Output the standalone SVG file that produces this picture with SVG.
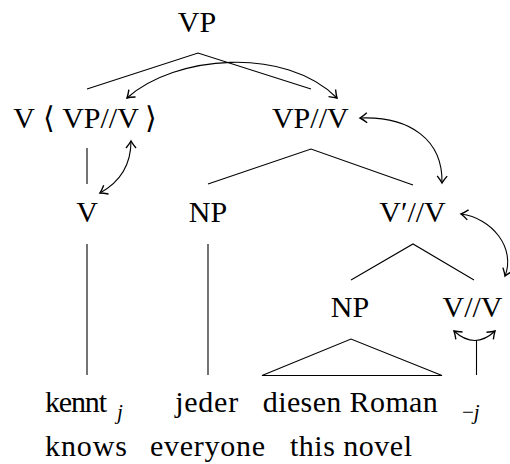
<svg xmlns="http://www.w3.org/2000/svg" width="510" height="464" viewBox="0 0 510 464" font-family="Liberation Serif, Times New Roman, serif">
<defs>
<marker id="ah" markerUnits="userSpaceOnUse" markerWidth="14" markerHeight="14" refX="0" refY="0" viewBox="-8 -7 10 14" orient="auto-start-reverse">
<path d="M-7,-5 Q-2.5,-1.3 0,0 Q-2.5,1.3 -7,5" fill="none" stroke="#000" stroke-width="1.4"/>
</marker>
</defs>
<g id="connectors" stroke="#000" stroke-width="1.1" fill="none">
<path d="M87,89 L198,53 L311,89"/>
<path d="M87,148 V184"/>
<path d="M208,184 L311,149 L413,185"/>
<path d="M87,244 V375"/>
<path d="M208,244 V375"/>
<path d="M351,280 L413,244 L474,280"/>
<path d="M262,375.5 L351,339 L442,375.5 Z"/>
<path d="M476.5,340 V375"/>
<g marker-start="url(#ah)" marker-end="url(#ah)">
<path d="M127,98 C175,55 285,46 337,98"/>
<path d="M360,118 C410,116 443,140 442,183"/>
<path d="M461,214 C492,218 516,248 505,276"/>
<path d="M131,141 C131,165 120,182 100,193"/>
<path d="M454,331 Q475,350 495,331"/>
</g>
</g>
<g id="n-vp"><text x="197" y="32" text-anchor="middle" font-family="Times New Roman, Liberation Serif, serif" font-size="30">VP</text></g>
<g id="n-v-slash"><text x="24" y="128" text-anchor="middle" font-family="Times New Roman, Liberation Serif, serif" font-size="30">V</text><text x="49" y="128" text-anchor="middle" font-family="Times New Roman, Liberation Serif, serif" font-size="30">⟨</text><text x="100.5" y="128" text-anchor="middle" font-family="Times New Roman, Liberation Serif, serif" font-size="30">VP//V</text><text x="151" y="128" text-anchor="middle" font-family="Times New Roman, Liberation Serif, serif" font-size="30">⟩</text></g>
<g id="n-vpv"><text x="310.3" y="128" text-anchor="middle" font-family="Times New Roman, Liberation Serif, serif" font-size="30">VP//V</text></g>
<g id="n-v"><text x="87" y="222" text-anchor="middle" font-family="Times New Roman, Liberation Serif, serif" font-size="30">V</text></g>
<g id="n-np1"><text x="208" y="222" text-anchor="middle" font-family="Times New Roman, Liberation Serif, serif" font-size="30">NP</text></g>
<g id="n-vbar"><text x="412.5" y="222" text-anchor="middle" font-family="Times New Roman, Liberation Serif, serif" font-size="30">V′//V</text></g>
<g id="n-np2"><text x="350" y="317" text-anchor="middle" font-family="Times New Roman, Liberation Serif, serif" font-size="30">NP</text></g>
<g id="n-vv"><text x="472.5" y="317" text-anchor="middle" font-family="Times New Roman, Liberation Serif, serif" font-size="30">V//V</text></g>
<g id="w-kennt"><text x="45" y="412" textLength="62" font-family="Times New Roman, Liberation Serif, serif" font-size="30">kennt</text><text x="117" y="419" font-family="Times New Roman, Liberation Serif, serif" font-size="21" font-style="italic">j</text></g>
<g id="w-jeder"><text x="206.7" y="412" text-anchor="middle" textLength="63" font-family="Times New Roman, Liberation Serif, serif" font-size="30">jeder</text></g>
<g id="w-roman"><text x="350.3" y="412" text-anchor="middle" textLength="175" font-family="Times New Roman, Liberation Serif, serif" font-size="30">diesen Roman</text></g>
<g id="w-trace"><text x="462" y="419" font-family="Times New Roman, Liberation Serif, serif" font-size="21">−<tspan font-style="italic">j</tspan></text></g>
<g id="g-knows"><text x="86" y="456" text-anchor="middle" textLength="82" font-family="Times New Roman, Liberation Serif, serif" font-size="30">knows</text></g>
<g id="g-everyone"><text x="207.5" y="456" text-anchor="middle" textLength="115" font-family="Times New Roman, Liberation Serif, serif" font-size="30">everyone</text></g>
<g id="g-novel"><text x="351" y="456" text-anchor="middle" textLength="122" font-family="Times New Roman, Liberation Serif, serif" font-size="30">this novel</text></g>
</svg>
